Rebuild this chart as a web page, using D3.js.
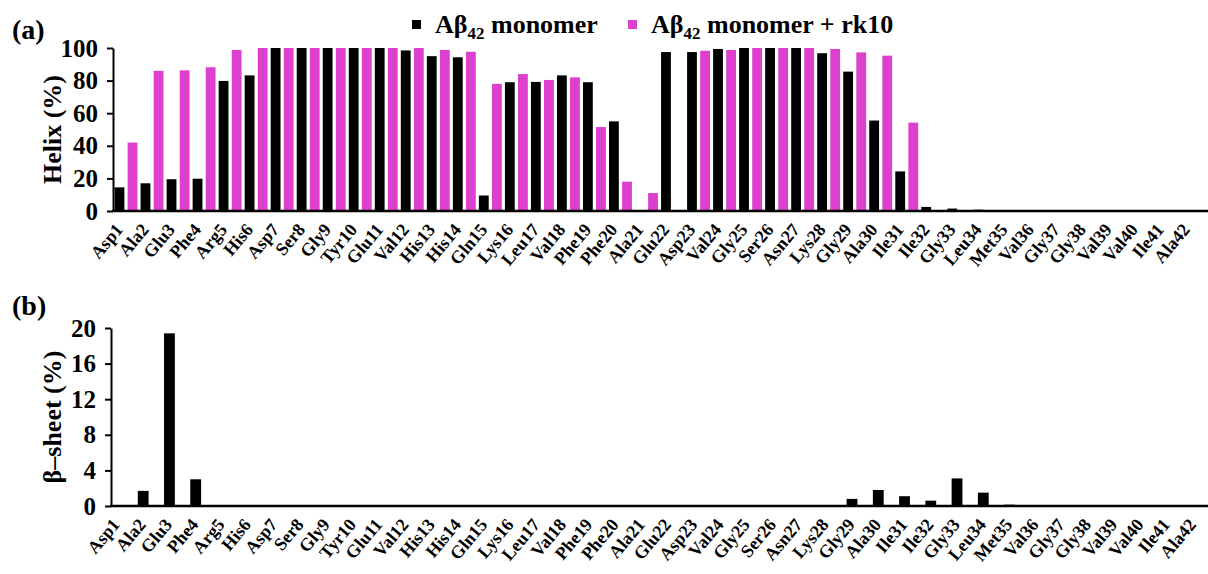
<!DOCTYPE html>
<html>
<head>
<meta charset="utf-8">
<script src="https://cdn.jsdelivr.net/npm/d3@7"></script>
<style>
  body { margin: 0; background: #fff; }
  text { font-family: "Liberation Serif", "Times New Roman", serif; font-weight: bold; fill: #000; }
</style>
</head>
<body>
<svg id="chart" width="1208" height="574"></svg>
<script>
const residues = ["Asp1", "Ala2", "Glu3", "Phe4", "Arg5", "His6", "Asp7", "Ser8", "Gly9", "Tyr10",
    "Glu11", "Val12", "His13", "His14", "Gln15", "Lys16", "Leu17", "Val18", "Phe19", "Phe20",
    "Ala21", "Glu22", "Asp23", "Val24", "Gly25", "Ser26", "Asn27", "Lys28", "Gly29", "Ala30",
    "Ile31", "Ile32", "Gly33", "Leu34", "Met35", "Val36", "Gly37", "Gly38", "Val39", "Val40",
    "Ile41", "Ala42"];

// helix content (%)
const helixMono = [14.5, 17, 19.5, 19.8, 79.8, 83.2, 100, 100, 100, 100,
    100, 98.5, 95, 94.3, 9.5, 79, 79.2, 83.2, 79, 55,
    0, 97.5, 97.5, 99.4, 100, 100, 100, 96.8, 85.5, 55.5,
    24.3, 2.5, 1.5, 0.8, 0, 0, 0, 0, 0, 0,
    0, 0];
const helixRk10 = [42, 86, 86.3, 88.2, 98.8, 100, 100, 100, 100, 100,
    100, 100, 98.8, 97.7, 78, 84, 80.4, 82, 51.5, 18,
    11, 0, 98.3, 98.8, 100, 100, 100, 99.4, 97.3, 95.3,
    54.2, 0, 0, 0, 0, 0, 0, 0, 0, 0,
    0, 0];

// beta-sheet content (%)
const sheetMono = [0, 1.7, 19.4, 3.0, 0, 0, 0, 0, 0, 0,
    0, 0, 0, 0, 0, 0, 0, 0, 0, 0,
    0, 0, 0, 0, 0, 0, 0, 0, 0.8, 1.8,
    1.1, 0.6, 3.1, 1.5, 0.15, 0, 0, 0, 0, 0,
    0, 0];
const sheetRk10 = [0.1, 0, 0, 0.1, 0, 0, 0, 0, 0, 0,
    0, 0, 0, 0, 0, 0, 0, 0, 0, 0,
    0, 0, 0, 0, 0, 0, 0, 0, 0, 0,
    0, 0, 0, 0, 0, 0, 0, 0, 0, 0,
    0, 0];

const helixTicks = [0, 20, 40, 60, 80, 100];
const sheetTicks = [0, 4, 8, 12, 16, 20];

const seriesKeys = ["mono", "rk10"];
const colors = { mono: "#000000", rk10: "#DD40CC" };

const svg = d3.select("#chart");

function drawPanel(opt) {
    const g = svg.append("g");
    const x0 = d3.scaleBand().domain(residues).range([opt.left, opt.right])
        .paddingInner(opt.padIn).paddingOuter(opt.padOut);
    const x1 = d3.scaleBand().domain(seriesKeys).range([0, x0.bandwidth()]).paddingInner(opt.barGap);
    const y = d3.scaleLinear().domain([0, opt.max]).range([opt.bottom, opt.top]);

    const rows = residues.map((r, i) => ({ r: r, mono: opt.a[i], rk10: opt.b[i] }));

    g.append("g").selectAll("g").data(rows).enter().append("g")
        .attr("transform", d => "translate(" + x0(d.r) + ",0)")
        .selectAll("rect")
        .data(d => seriesKeys.map(k => ({ k: k, v: d[k] })))
        .enter().append("rect")
        .attr("x", d => x1(d.k))
        .attr("width", x1.bandwidth())
        .attr("y", d => y(d.v))
        .attr("height", d => opt.bottom - y(d.v))
        .attr("fill", d => colors[d.k]);

    // y axis
    const yAxis = g.append("g")
        .attr("transform", "translate(" + opt.left + ",0)")
        .call(d3.axisLeft(y).tickValues(opt.ticks).tickSize(6).tickSizeOuter(0).tickPadding(9));
    yAxis.select(".domain").attr("stroke-width", 2);
    yAxis.selectAll(".tick line").attr("stroke-width", 2);
    yAxis.selectAll("text").style("font-size", "25px")
        .style("font-family", "'Liberation Serif', serif").style("font-weight", "bold");

    // x axis line
    const xAxis = g.append("g")
        .attr("transform", "translate(0," + opt.bottom + ")")
        .call(d3.axisBottom(x0).tickSize(0).tickFormat(""));
    xAxis.select(".domain").attr("d", "M" + (opt.left - 1) + ",0H1208").attr("stroke-width", 2.5);

    // rotated residue labels
    svg.selectAll("text.lab" + opt.letter[1]).data(residues).enter().append("text")
        .attr("class", "lab" + opt.letter[1])
        .attr("transform", d => "translate(" + (x0(d) + x0.bandwidth() / 2 - 7) + "," + (opt.bottom + 15) + ") rotate(-50)")
        .attr("text-anchor", "end")
        .attr("dy", "0.35em")
        .style("font-size", "18px")
        .text(d => d);

    // panel letter and axis title
    svg.append("text").attr("x", 12).attr("y", opt.letterY)
        .style("font-size", "28px").text(opt.letter);
    svg.append("text")
        .attr("transform", "translate(61," + ((opt.top + opt.bottom) / 2) + ") rotate(-90)")
        .attr("text-anchor", "middle")
        .style("font-size", "26px").text(opt.title);
}

drawPanel({ left: 113, right: 1206, top: 48, bottom: 211, max: 100, ticks: helixTicks,
    padIn: 0.12, padOut: 0.06, barGap: 0.25, a: helixMono, b: helixRk10,
    letter: "(a)", letterY: 39, title: "Helix (%)" });
drawPanel({ left: 111, right: 1211, top: 328, bottom: 506, max: 20, ticks: sheetTicks,
    padIn: 0.14, padOut: 0.02, barGap: 0.08, a: sheetMono, b: sheetRk10,
    letter: "(b)", letterY: 315, title: "β–sheet (%)" });

// legend
const legend = svg.append("g");
const legendItems = [
    { k: "mono", x: 412, tail: " monomer" },
    { k: "rk10", x: 628, tail: " monomer + rk10" }
];
legendItems.forEach(it => {
    legend.append("rect").attr("x", it.x).attr("y", 20).attr("width", 9).attr("height", 9)
        .attr("fill", colors[it.k]);
    const t = legend.append("text").attr("x", it.x + 23).attr("y", 33).style("font-size", "26px");
    t.append("tspan").text("Aβ");
    t.append("tspan").attr("dy", 6).style("font-size", "17px").text("42");
    t.append("tspan").attr("dy", -6).text(it.tail);
});
</script>
</body>
</html>
